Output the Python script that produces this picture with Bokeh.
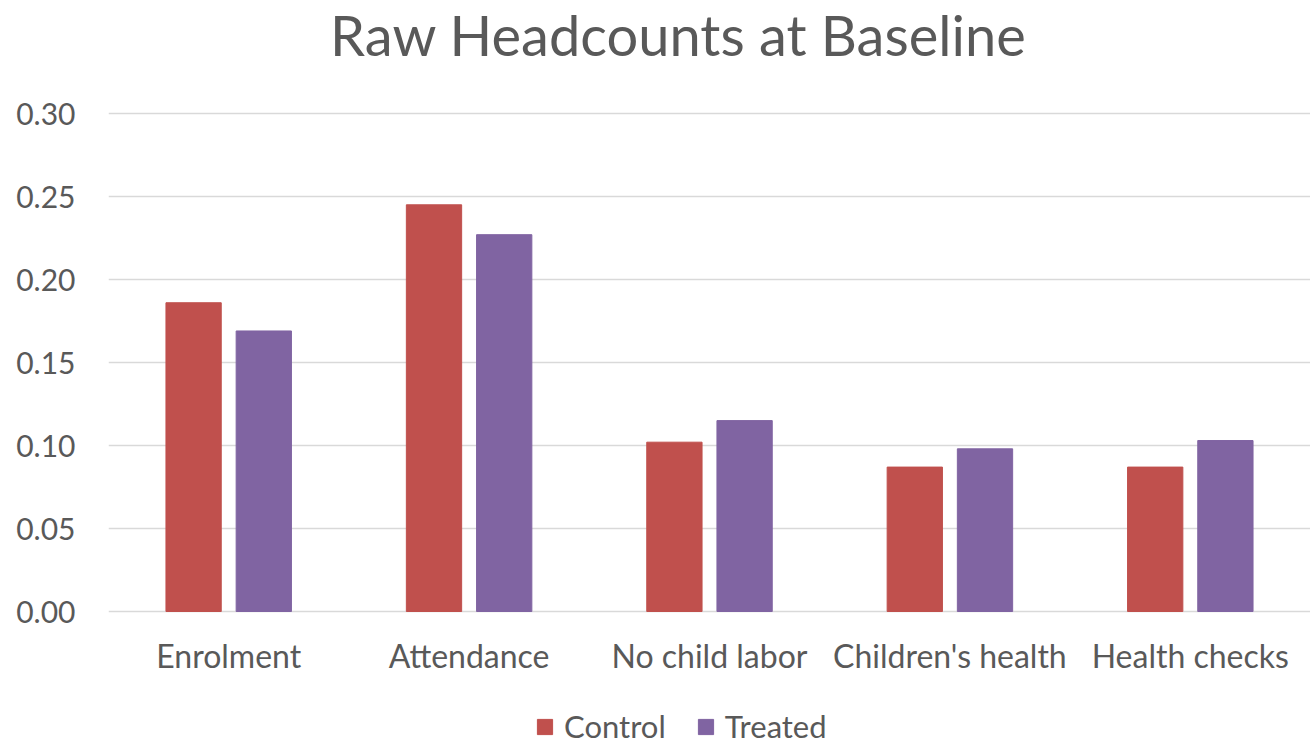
from bokeh.plotting import figure
from bokeh.models import (ColumnDataSource, FactorRange, Range1d, FixedTicker,
                          NumeralTickFormatter, Legend, LegendItem, Label)
from bokeh.transform import dodge
from bokeh.embed import file_html
from bokeh.resources import INLINE

# Baseline headcount ratios by indicator
categories = ["Enrolment", "Attendance", "No child labor", "Children's health", "Health checks"]
control = [0.186, 0.245, 0.102, 0.087, 0.087]
treated = [0.169, 0.227, 0.115, 0.098, 0.103]
y_ticks = [0.00, 0.05, 0.10, 0.15, 0.20, 0.25, 0.30]

FONT = "Lato"
TEXT_COLOR = "#595959"
GRID_COLOR = "#d9d9d9"

# Canvas geometry: the frame spans the full height so the title, category
# labels and legend can all sit inside it; the value axis occupies 0..0.30
# between pixel rows 113 (top) and 611 (bottom).
W, H = 1310, 745
LEFT = 108
TOP_PX, ZERO_PX = 113, 611
px_per_unit = (ZERO_PX - TOP_PX) / y_ticks[-1]
y_start = -(H - ZERO_PX) / px_per_unit
y_end = y_ticks[-1] + TOP_PX / px_per_unit

source = ColumnDataSource(dict(cat=categories, control=control, treated=treated))

p = figure(
    frame_width=W - LEFT, frame_height=H,
    x_range=FactorRange(*categories),
    y_range=Range1d(y_start, y_end),
    output_backend="svg", toolbar_location=None,
    min_border_left=LEFT, min_border_right=0,
    min_border_top=0, min_border_bottom=0,
)
p.outline_line_color = None

r_control = p.vbar(x=dodge("cat", -0.146, range=p.x_range), top="control", width=0.23,
                   source=source, fill_color="#C0504D", line_color="#C0504D")
r_treated = p.vbar(x=dodge("cat", 0.146, range=p.x_range), top="treated", width=0.23,
                   source=source, fill_color="#8064A2", line_color="#8064A2")

# Value axis
p.yaxis.ticker = FixedTicker(ticks=y_ticks)
p.yaxis.formatter = NumeralTickFormatter(format="0.00")
p.yaxis.axis_line_color = None
p.yaxis.major_tick_line_color = None
p.yaxis.minor_tick_line_color = None
p.yaxis.major_label_text_font = FONT
p.yaxis.major_label_text_font_size = "30px"
p.yaxis.major_label_text_color = TEXT_COLOR
p.yaxis.major_label_standoff = 27

# Category axis pinned to the zero line
p.xaxis.fixed_location = 0
p.xaxis.axis_line_color = None
p.xaxis.major_tick_line_color = None
p.xaxis.minor_tick_line_color = None
p.xaxis.major_label_text_font = FONT
p.xaxis.major_label_text_font_size = "32px"
p.xaxis.major_label_text_color = TEXT_COLOR
p.xaxis.major_label_standoff = 18

p.xgrid.grid_line_color = None
p.ygrid.grid_line_color = GRID_COLOR
p.ygrid.grid_line_width = 1.5

# Title centred over the whole chart
title_x = (678 - LEFT) / ((W - LEFT) / len(categories))
title_y = (ZERO_PX - 34) / px_per_unit
p.add_layout(Label(
    x=title_x, y=title_y, text="Raw Headcounts at Baseline",
    text_align="center", text_baseline="middle",
    text_font=FONT, text_font_size="56px", text_color=TEXT_COLOR,
))

legend = Legend(
    items=[LegendItem(label="Control", renderers=[r_control]),
           LegendItem(label="Treated", renderers=[r_treated])],
    orientation="horizontal", location=(427, 0),
    label_text_font=FONT, label_text_font_size="31px", label_text_color=TEXT_COLOR,
    glyph_width=19, glyph_height=19, spacing=30, label_standoff=10,
    border_line_color=None, background_fill_alpha=0, margin=0, padding=0,
)
p.add_layout(legend)

open("out.html", "w").write(file_html(p, INLINE))
